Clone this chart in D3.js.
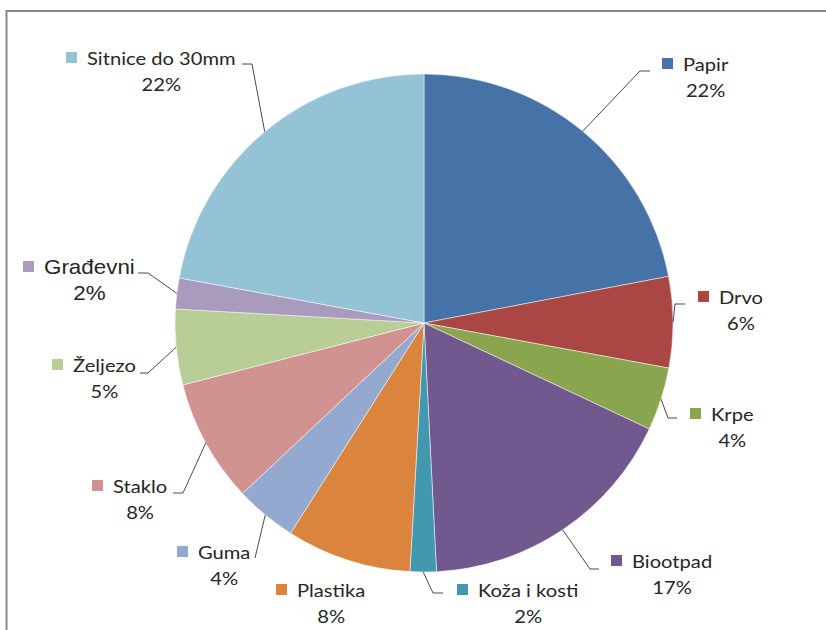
<!DOCTYPE html>
<html>
<head>
<meta charset="utf-8">
<script src="https://cdn.jsdelivr.net/npm/d3@7"></script>
<style>
  html, body { margin: 0; padding: 0; background: #fff; }
  svg { display: block; }
</style>
</head>
<body>
<svg id="chart" width="826" height="630"></svg>
<script>
// ---- data ----
const categories = ["Papir", "Drvo", "Krpe", "Biootpad", "Koža i kosti", "Plastika", "Guma", "Staklo", "Željezo", "Građevni", "Sitnice do 30mm"];
const values = [22.0, 5.9, 4.1, 17.2, 1.7, 8.1, 4.0, 8.0, 4.9, 2.0, 22.1];
const colors = ["#4572A7", "#AA4643", "#89A54E", "#71588F", "#4198AF", "#DB843D", "#93A9CF", "#D19392", "#B9CD96", "#A99BBD", "#93C3D4"];

// ---- layout (label anchors: name start x, baseline y) ----
const labelPos = [[683, 71], [719, 304], [711, 421], [632, 568], [478, 597], [297, 597], [198, 559], [113, 493], [73, 372], [44, 274], [87, 65]];
// leader elbow: [x, y, horizontal tail]
const elbows = [[640, 71, 10], [675, 304, 10], [668, 418, 9], [590, 569, 9], [433, 593, 10], null, [255, 558, 0], [183, 493, -10], [148, 373, -8], [148, 273, -10], [252, 64, -10]];
const arialLabels = ["Građevni"];

const svg = d3.select("#chart");
const cx = 424, cy = 323, R = 249;
const sx = 1.12;

// frame
svg.append("rect")
  .attr("x", 6.5).attr("y", 11).attr("width", 900).attr("height", 700)
  .attr("fill", "none").attr("stroke", "#8a8a8a").attr("stroke-width", 2);

const pie = d3.pie().sort(null).value(d => d)(values);
const arc = d3.arc().innerRadius(0).outerRadius(R);
const edge = d3.arc().innerRadius(R).outerRadius(R);

const g = svg.append("g").attr("transform", `translate(${cx},${cy})`);
g.selectAll("path.slice").data(pie).join("path")
  .attr("class", "slice")
  .attr("d", arc)
  .attr("fill", (d, i) => colors[i])
  .attr("stroke", "#ffffff").attr("stroke-width", 0.5);

// leader lines
pie.forEach((d, i) => {
  const e = elbows[i];
  if (!e) return;
  const c = edge.centroid(d);
  const p0 = [cx + c[0], cy + c[1]];
  svg.append("polyline")
    .attr("points", [p0, [e[0], e[1]], [e[0] + e[2], e[1]]].map(p => p.join(",")).join(" "))
    .attr("fill", "none").attr("stroke", "#4a4a4a").attr("stroke-width", 1);
});

// labels
categories.forEach((name, i) => {
  const [x, y] = labelPos[i];
  const isArial = arialLabels.includes(name);
  const fam = isArial ? "'Liberation Sans', Arial, sans-serif" : "Lato, 'Open Sans', sans-serif";
  const fs = isArial ? 20 : 18;
  svg.append("rect")
    .attr("x", x - 21).attr("y", y - 13).attr("width", 11).attr("height", 11)
    .attr("fill", colors[i]);
  const t = svg.append("text")
    .attr("transform", `translate(${x},${y}) scale(${sx},1)`)
    .attr("font-family", fam).attr("font-size", fs).attr("fill", "#262626")
    .text(name);
  const w = t.node().getComputedTextLength() * sx;
  svg.append("text")
    .attr("transform", `translate(${x + w / 2},${y + 26}) scale(${sx},1)`)
    .attr("text-anchor", "middle")
    .attr("font-family", fam).attr("font-size", fs).attr("fill", "#262626")
    .text(Math.round(values[i]) + "%");
});
</script>
</body>
</html>
